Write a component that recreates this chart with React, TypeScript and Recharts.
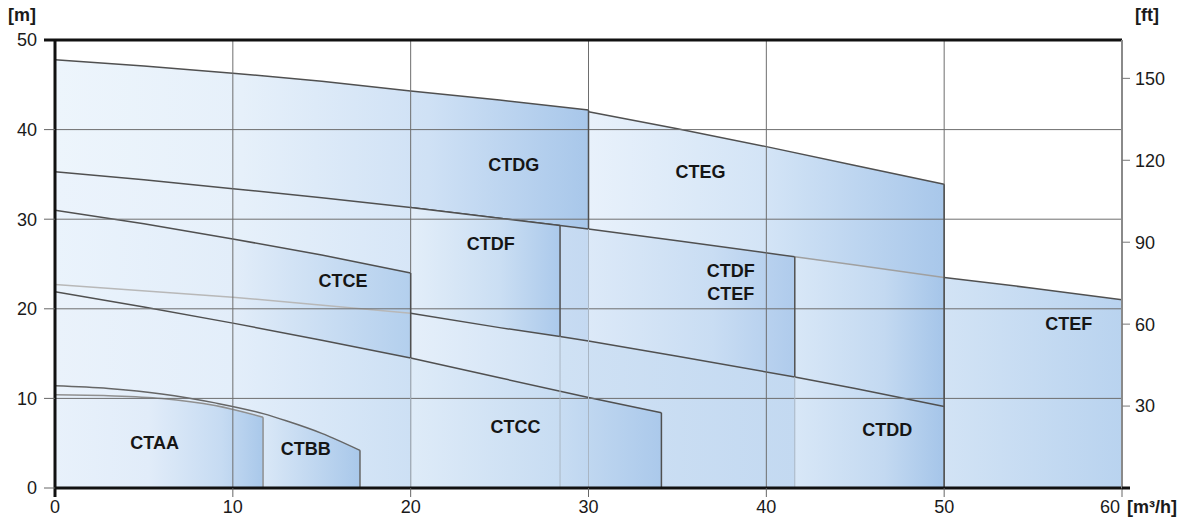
import { ComposedChart, Area, Scatter, XAxis, YAxis, ReferenceLine } from "recharts";

const FONT = '"Liberation Sans", Arial, Helvetica, sans-serif';
const M_TO_FT = 3.28084;

const flowTicks = [0, 10, 20, 30, 40, 50, 60];
const headTicks = [0, 10, 20, 30, 40, 50];
const feetTicks = [30, 60, 90, 120, 150];
const gridFlow = [10, 20, 30, 40, 50];
const gridHead = [10, 20, 30, 40];

// envelope curves, flow [m3/h] -> head [m]
const dgFlow = [0, 5, 10, 15, 20, 25, 30];
const dgHead = [47.8, 47.1, 46.3, 45.4, 44.3, 43.3, 42.2];

const egFlow = [30, 35, 40, 45, 50];
const egHead = [42.0, 40.1, 38.1, 36.0, 33.9];

const efFlow = [0, 5, 10, 15, 20, 25, 28.4, 30, 35, 41.6, 45, 50, 55, 60];
const efHead = [35.3, 34.4, 33.4, 32.4, 31.3, 30.1, 29.3, 28.9, 27.6, 25.8, 24.9, 23.5, 22.3, 21.0];

const ceFlow = [0, 5, 10, 15, 20];
const ceHead = [31.0, 29.5, 27.8, 26.0, 24.0];

const ddFlow = [0, 10, 20, 25, 28.4, 30, 35, 41.6, 45, 50];
const ddHead = [22.7, 21.3, 19.5, 17.9, 16.9, 16.4, 14.7, 12.4, 11.1, 9.1];

const ccFlow = [0, 5, 10, 15, 20, 25, 30, 34.1];
const ccHead = [21.9, 20.2, 18.4, 16.5, 14.5, 12.3, 10.1, 8.4];

const bbFlow = [0, 3, 6, 9, 11.7, 13, 15, 17.15];
const bbHead = [11.4, 11.1, 10.5, 9.5, 8.3, 7.5, 6.1, 4.2];

const aaFlow = [0, 3, 6, 9, 11.7];
const aaHead = [10.4, 10.3, 10.0, 9.2, 7.9];

// model labels
const modelNames = ["CTAA", "CTBB", "CTCC", "CTCE", "CTDF", "CTDG", "CTEG", "CTDF", "CTEF", "CTEF", "CTDD"];
const labelFlow = [5.6, 14.1, 25.9, 16.2, 24.5, 25.8, 36.3, 38.0, 38.0, 57.0, 46.8];
const labelHead = [5.0, 4.3, 6.8, 23.1, 27.2, 36.0, 35.3, 24.2, 21.7, 18.3, 6.5];

type Curve = { flow: number[]; head: number[] };
const DG: Curve = { flow: dgFlow, head: dgHead };
const EG: Curve = { flow: egFlow, head: egHead };
const EF: Curve = { flow: efFlow, head: efHead };
const CE: Curve = { flow: ceFlow, head: ceHead };
const DD: Curve = { flow: ddFlow, head: ddHead };
const CC: Curve = { flow: ccFlow, head: ccHead };
const BB: Curve = { flow: bbFlow, head: bbHead };
const AA: Curve = { flow: aaFlow, head: aaHead };

function span(c: Curve, from: number, to: number) {
  return c.flow
    .map((q, i) => ({ q, h: c.head[i] }))
    .filter((p) => p.q >= from && p.q <= to);
}

function headAt(c: Curve, q: number) {
  for (let i = 1; i < c.flow.length; i++) {
    if (q <= c.flow[i]) {
      const t = (q - c.flow[i - 1]) / (c.flow[i] - c.flow[i - 1]);
      return c.head[i - 1] + t * (c.head[i] - c.head[i - 1]);
    }
  }
  return c.head[c.head.length - 1];
}

const LINE = "#505050";
const PALE = "#a0a0a0";
const TEXT = "#1a1a1a";

type Stop = [number, string];
const ddStops: Stop[] = [[0, "#d8e7f7"], [0.6, "#c3d9f1"], [1, "#a5c5e9"]];

// drawn back to front
const layers: { id: string; c: Curve; from: number; to: number; line: string; smooth?: boolean; stops: Stop[] | null }[] = [
  { id: "dg", c: DG, from: 0, to: 30, line: LINE, stops: [[0, "#edf5fc"], [0.35, "#e6f0fa"], [0.7, "#cfe1f5"], [1, "#a8c7ea"]] },
  { id: "eg", c: EG, from: 30, to: 50, line: LINE, stops: [[0, "#e8f1fb"], [0.5, "#d3e4f6"], [1, "#a8c7ea"]] },
  { id: "efl", c: EF, from: 0, to: 30, line: LINE, stops: [[0, "#ebf3fc"], [0.35, "#e6f0fa"], [0.7, "#d5e5f7"], [1, "#c4d9f1"]] },
  { id: "efr", c: EF, from: 50, to: 60, line: LINE, stops: [[0, "#d2e3f5"], [1, "#b9d3ef"]] },
  { id: "dfef", c: EF, from: 30, to: 41.6, line: LINE, stops: [[0, "#dce9f8"], [0.6, "#c9ddf3"], [1, "#afcbec"]] },
  { id: "ddb", c: EF, from: 41.6, to: 50, line: PALE, stops: ddStops },
  { id: "df", c: EF, from: 20, to: 28.4, line: LINE, stops: [[0, "#e3eef9"], [0.6, "#cadef3"], [1, "#abc9eb"]] },
  { id: "ddl", c: DD, from: 20, to: 41.6, line: LINE, stops: [[0, "#e5effa"], [0.4, "#cfe1f4"], [1, "#c3d9f1"]] },
  { id: "dd", c: DD, from: 41.6, to: 50, line: LINE, stops: ddStops },
  { id: "ce", c: CE, from: 0, to: 20, line: LINE, stops: [[0, "#eaf3fc"], [0.5, "#e2edf9"], [1, "#b3cfed"]] },
  { id: "ddg", c: DD, from: 0, to: 20, line: "#b8b8b8", stops: null },
  { id: "ccl", c: CC, from: 0, to: 20, line: LINE, stops: [[0, "#eaf2fb"], [0.5, "#e3eefa"], [1, "#cde0f4"]] },
  { id: "cc", c: CC, from: 20, to: 34.1, line: LINE, stops: [[0, "#deebf8"], [0.6, "#c7dcf2"], [1, "#abc9eb"]] },
  { id: "bb", c: BB, from: 0, to: 17.15, line: "#666", smooth: true, stops: [[0, "#eaf2fb"], [0.68, "#dae8f7"], [1, "#a9c8ea"]] },
  { id: "aa", c: AA, from: 0, to: 11.7, line: "#8f8f8f", smooth: true, stops: [[0, "#e8f1fb"], [0.45, "#e1ecf9"], [0.8, "#c6dbf2"], [1, "#a9c8ea"]] },
];

// right-hand edges of each range, dark above the curve that hides them
const edges: { c: Curve; at: number; cover: Curve | null; color: string }[] = [
  { c: AA, at: 11.7, cover: null, color: "#8f8f8f" },
  { c: BB, at: 17.15, cover: null, color: "#666" },
  { c: CE, at: 20, cover: CC, color: LINE },
  { c: EF, at: 28.4, cover: DD, color: LINE },
  { c: DG, at: 30, cover: EF, color: LINE },
  { c: CC, at: 34.1, cover: null, color: LINE },
  { c: EF, at: 41.6, cover: DD, color: LINE },
  { c: EG, at: 50, cover: null, color: LINE },
  { c: EF, at: 60, cover: null, color: "#777" },
];

const labelPts = modelNames.map((name, i) => ({ name, q: labelFlow[i], h: labelHead[i] }));

const X_TICK = 9;
const X_GAP = 3;

function FlowTick({ x, y, payload }: any) {
  const v = payload.value;
  const axisY = y - X_TICK - X_GAP;
  const last = v === 60;
  return (
    <g>
      <line
        x1={x}
        x2={x}
        y1={axisY}
        y2={axisY + X_TICK}
        stroke={v === 0 ? "#111" : "#666"}
        strokeWidth={v === 0 ? 3 : 1}
      />
      {last && <line x1={x} x2={x + 8} y1={axisY} y2={axisY} stroke="#111" strokeWidth={3} />}
      <text x={last ? x - 2 : x} y={y} dy="0.71em" textAnchor={last ? "end" : "middle"} fontSize={18} fill={TEXT}>
        {v}
      </text>
      {last && (
        <text x={x + 5} y={y} dy="0.71em" textAnchor="start" fontSize={18} fontWeight={700} fill={TEXT}>
          [m³/h]
        </text>
      )}
    </g>
  );
}

const Y_TICK = 11;
const Y_GAP = 7;

function HeadTick({ x, y, payload }: any) {
  const v = payload.value;
  const axisX = x + Y_TICK + Y_GAP;
  const edge = v === 50;
  return (
    <g>
      <line x1={axisX - Y_TICK} x2={axisX} y1={y} y2={y} stroke={edge ? "#111" : "#666"} strokeWidth={edge ? 3 : 1} />
      <text x={x} y={y} dy="0.355em" textAnchor="end" fontSize={18} fill={TEXT}>
        {v}
      </text>
    </g>
  );
}

function ModelLabel(p: any) {
  return (
    <text x={p.cx} y={p.cy} textAnchor="middle" dominantBaseline="central" fontSize={18} fontWeight={700} fill="#151515">
      {p.payload.name}
    </text>
  );
}

export default function App() {
  return (
    <div style={{ position: "absolute", left: 0, top: 0, width: 1195, height: 529, fontFamily: FONT, background: "#fff" }}>
      <div style={{ position: "absolute", left: 8, top: 6, fontSize: 18, lineHeight: "18px", fontWeight: 700, color: TEXT }}>[m]</div>
      <div style={{ position: "absolute", left: 1135, top: 6, fontSize: 18, lineHeight: "18px", fontWeight: 700, color: TEXT }}>[ft]</div>
      <ComposedChart width={1195} height={529} margin={{ top: 40, right: 0, bottom: 0, left: 0 }}>
        <defs>
          {layers.filter((l) => l.stops).map((l) => (
            <linearGradient key={l.id} id={`g-${l.id}`} x1="0" y1="0" x2="1" y2="0">
              {l.stops!.map(([o, c]) => (
                <stop key={o} offset={o} stopColor={c} />
              ))}
            </linearGradient>
          ))}
        </defs>
        <XAxis
          type="number"
          dataKey="q"
          domain={[0, 60]}
          ticks={flowTicks}
          interval={0}
          allowDataOverflow
          height={41}
          tickSize={X_TICK}
          tickMargin={X_GAP}
          tick={(p: any) => <FlowTick {...p} />}
          tickLine={false}
          axisLine={{ stroke: "#111", strokeWidth: 3 }}
        />
        <YAxis
          type="number"
          dataKey="h"
          domain={[0, 50]}
          ticks={headTicks}
          interval={0}
          allowDataOverflow
          width={55}
          tickSize={Y_TICK}
          tickMargin={Y_GAP}
          tick={(p: any) => <HeadTick {...p} />}
          tickLine={false}
          axisLine={{ stroke: "#111", strokeWidth: 3 }}
        />
        <YAxis
          yAxisId="ft"
          orientation="right"
          type="number"
          domain={[0, 50 * M_TO_FT]}
          ticks={feetTicks}
          interval={0}
          allowDataOverflow
          width={73}
          tickSize={8}
          tickMargin={5}
          tick={{ fontSize: 18, fill: TEXT }}
          tickLine={{ stroke: "#777" }}
          axisLine={{ stroke: "#8a8a8a", strokeWidth: 2 }}
        />

        {layers.map((l) => (
          <Area
            key={l.id}
            data={span(l.c, l.from, l.to)}
            dataKey="h"
            type={l.smooth ? "monotone" : "linear"}
            baseValue={0}
            fill={l.stops ? `url(#g-${l.id})` : "none"}
            fillOpacity={1}
            stroke={l.line}
            strokeWidth={1.5}
            dot={false}
            activeDot={false}
            isAnimationActive={false}
          />
        ))}

        {gridFlow.map((q) => (
          <ReferenceLine key={`gx${q}`} x={q} stroke="#6e6e6e" strokeWidth={1} zIndex={450} />
        ))}
        {gridHead.map((h) => (
          <ReferenceLine key={`gy${h}`} y={h} stroke="#6e6e6e" strokeWidth={1} zIndex={450} />
        ))}

        {edges.map((e, i) => {
          const top = headAt(e.c, e.at);
          const low = e.cover ? headAt(e.cover, e.at) : 0;
          return [
            <ReferenceLine key={`ed${i}`} segment={[{ x: e.at, y: low }, { x: e.at, y: top }]} stroke={e.color} strokeWidth={1.5} zIndex={460} />,
            e.cover ? (
              <ReferenceLine key={`ef${i}`} segment={[{ x: e.at, y: 0 }, { x: e.at, y: low }]} stroke="#a9b6c4" strokeWidth={1} zIndex={460} />
            ) : null,
          ];
        })}

        <ReferenceLine y={50} stroke="#111" strokeWidth={3} zIndex={470} />

        <Scatter data={labelPts} dataKey="h" shape={(p: any) => <ModelLabel {...p} />} isAnimationActive={false} />
      </ComposedChart>
    </div>
  );
}
